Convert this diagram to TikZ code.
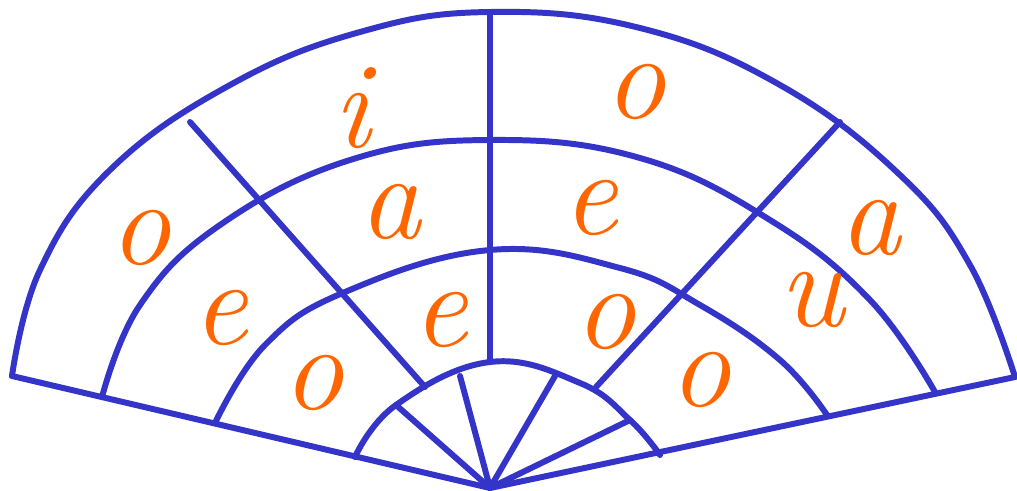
\documentclass[tikz,border=0pt]{standalone}
\usepackage{tikz}
\definecolor{FanBlue}{HTML}{3434C8}
\definecolor{Vowel}{HTML}{FF6600}

\begin{document}
\begin{tikzpicture}[
      x=0.02cm,y=-0.02cm,
      rib/.style={draw=FanBlue,line width=3.4pt,line cap=round,line join=round},
      vowel/.style={text=Vowel,font=\fontsize{70}{70}\selectfont\itshape,inner sep=0pt}
    ]
      \useasboundingbox (0,0) rectangle (1017,490);
      \coordinate (apex) at (490,488);
      % outer edge and the two sides
      \draw[rib] plot[smooth,tension=0.7] coordinates {(12,376) (40,270) (110,170) (230,85) (360,32) (490,12) (640,28) (780,85) (900,175) (970,265) (1015,377)};
      \draw[rib] (12,376) -- (apex) -- (1015,377);
      % rings
      \draw[rib] plot[smooth,tension=0.7] coordinates {(102,397) (140,305) (220,225) (350,160) (490,140) (640,158) (770,220) (870,300) (935,392)};
      \draw[rib] plot[smooth,tension=0.7] coordinates {(215,423) (265,345) (345,292) (490,250) (620,268) (700,305) (780,360) (827,415)};
      \draw[rib] plot[smooth,tension=0.7] coordinates {(355,457) (396,405) (490,362) (580,383) (630,420) (660,455)};
      % ribs
      \draw[rib] (190,122) -- (425,387);
      \draw[rib] (490,12) -- (490,362);
      \draw[rib] (840,122) -- (596,387);
      \foreach \p in {(396,405),(460,376),(555,376),(630,420)}
        \draw[rib] (apex) -- \p;
      % letters
      \node[vowel] (i1) at (352,108) {i};
      \node[vowel] (o1) at (635,92) {o};
      \node[vowel] (o2) at (140,238) {o};
      \node[vowel] (a1) at (390,212) {a};
      \node[vowel] (e1) at (590,208) {e};
      \node[vowel] (a2) at (870,228) {a};
      \node[vowel] (e2) at (220,318) {e};
      \node[vowel] (e3) at (440,320) {e};
      \node[vowel] (o3) at (605,322) {o};
      \node[vowel] (u1) at (812,300) {u};
      \node[vowel] (o4) at (313,383) {o};
      \node[vowel] (o5) at (700,380) {o};
    \end{tikzpicture}
\end{document}
